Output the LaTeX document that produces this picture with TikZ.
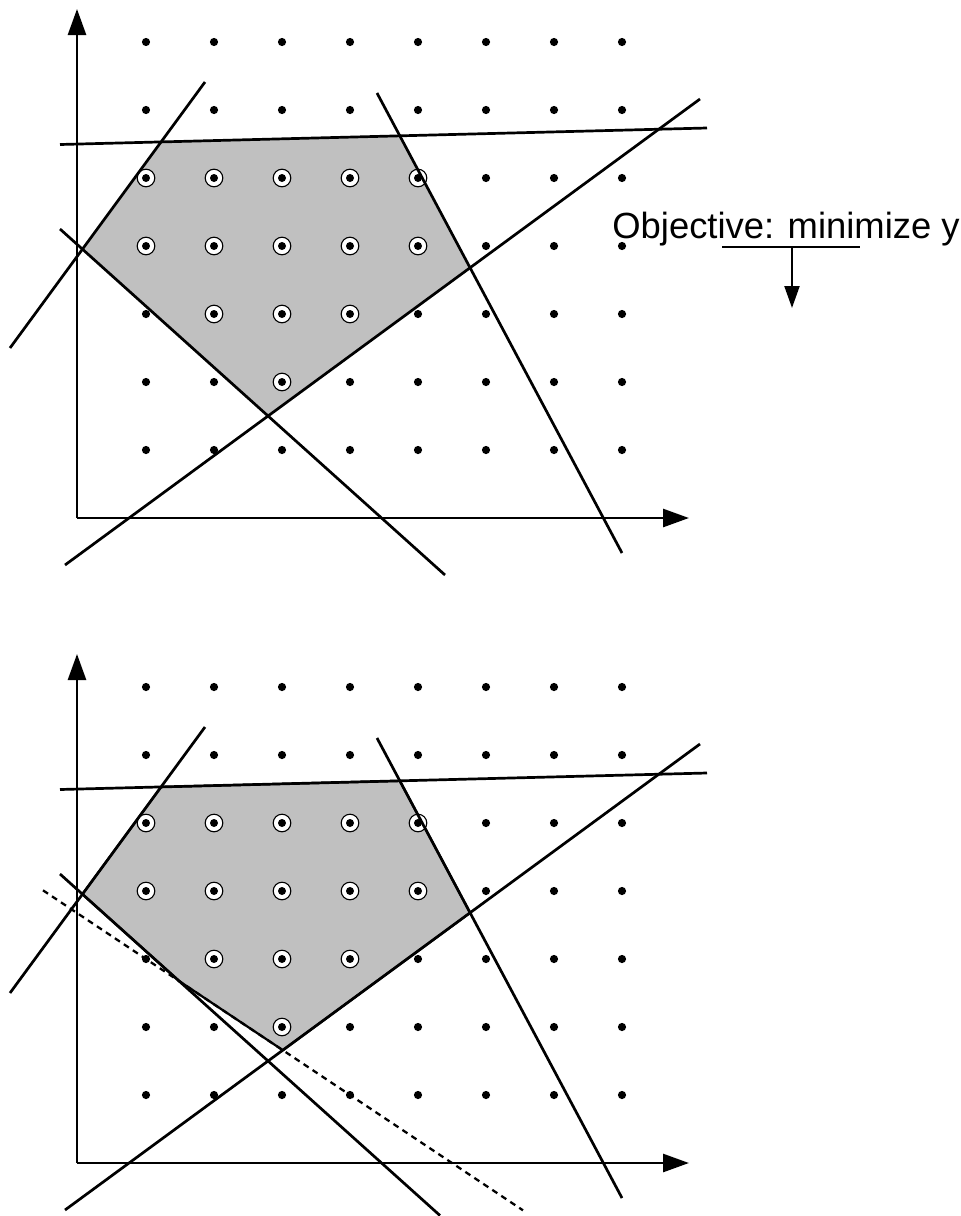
\documentclass[tikz,border=0pt]{standalone}
\usepackage{fontspec}
\setmainfont{Liberation Sans}
\usetikzlibrary{arrows.meta}
\definecolor{polygray}{RGB}{192,192,192}
\tikzset{
  ln/.style={line width=1.35pt},
  axis/.style={line width=1.35pt,-{Triangle[length=13pt,width=9pt]}},
  dot/.style={circle,fill=black,inner sep=0pt,minimum size=4.1pt},
  cdot/.style={circle,draw=black,fill=white,line width=0.55pt,inner sep=0pt,minimum size=8.8pt,
    path picture={\fill[black] (path picture bounding box.center) circle (2pt);}},
  cutln/.style={line width=1.15pt,dash pattern=on 3pt off 2.4pt},
}
\newcommand{\latticepts}[1]{%
  \foreach \x [count=\i] in {146,214,282,350,418,486,554,622}{
    \foreach \y [count=\j] in {42,110,178,246,314,382,450}{
      \pgfmathtruncatemacro{\inside}{
        (\j==3 && \i<=5) || (\j==4 && \i<=5) || (\j==5 && \i>=2 && \i<=4) || (\j==6 && \i==3)}
      \ifnum\inside=1
        \node[cdot] (#1-\i-\j) at (\x,\y) {};
      \else
        \node[dot] (#1-\i-\j) at (\x,\y) {};
      \fi
    }
  }%
}
\begin{document}
\begin{tikzpicture}[x=0.5pt,y=-0.5pt]
\useasboundingbox (0,0) rectangle (961,1216);
% ---------------- top diagram ----------------
\begin{scope}
  \coordinate (tO) at (77,518);
  \coordinate (tYt) at (77,9);
  \coordinate (tXt) at (689,518);
  \coordinate (t1a) at (60,144.5); \coordinate (t1b) at (707,128);
  \coordinate (t2a) at (10,348);   \coordinate (t2b) at (205,82);
  \coordinate (t3a) at (60,229);   \coordinate (t3b) at (445,575);
  \coordinate (t4a) at (65,565);   \coordinate (t4b) at (700,99);
  \coordinate (t5a) at (377,93);   \coordinate (t5b) at (622,553);
  \fill[polygray] (intersection of t1a--t1b and t2a--t2b)
    -- (intersection of t1a--t1b and t5a--t5b)
    -- (intersection of t4a--t4b and t5a--t5b)
    -- (intersection of t3a--t3b and t4a--t4b)
    -- (intersection of t2a--t2b and t3a--t3b) -- cycle;
  \latticepts{t}
  \draw[ln] (t1a) -- (t1b);
  \draw[ln] (t2a) -- (t2b);
  \draw[ln] (t3a) -- (t3b);
  \draw[ln] (t4a) -- (t4b);
  \draw[ln] (t5a) -- (t5b);
  \draw[axis] (tO) -- (tYt);
  \draw[axis] (tO) -- (tXt);
  % objective
  \node[anchor=base west,inner sep=0pt,font=\fontsize{18.2}{21}\selectfont] (obj) at (612,238) {Objective: minimize y};
  \coordinate (oL) at (722,247); \coordinate (oR) at (860,247);
  \coordinate (oM) at (792,247); \coordinate (oT) at (792,308);
  \draw[line width=1.1pt] (oL) -- (oR);
  \draw[line width=1.1pt,-{Triangle[length=11pt,width=7.5pt]}] (oM) -- (oT);
\end{scope}
% ---------------- bottom diagram ----------------
\begin{scope}[shift={(0,645)}]
  \coordinate (bO) at (77,518);
  \coordinate (bYt) at (77,9);
  \coordinate (bXt) at (689,518);
  \coordinate (b1a) at (60,144.5); \coordinate (b1b) at (707,128);
  \coordinate (b2a) at (10,348);   \coordinate (b2b) at (205,82);
  \coordinate (b3a) at (60,229);   \coordinate (b3b) at (440,570.5);
  \coordinate (b4a) at (65,565);   \coordinate (b4b) at (700,99);
  \coordinate (b5a) at (377,93);   \coordinate (b5b) at (622,553);
  \coordinate (bda) at (43,245.3); \coordinate (bdb) at (523,565.3);
  \filldraw[fill=polygray,draw=black,line width=1.1pt,line join=round]
       (intersection of b1a--b1b and b2a--b2b)
    -- (intersection of b1a--b1b and b5a--b5b)
    -- (intersection of b4a--b4b and b5a--b5b)
    -- (intersection of b4a--b4b and bda--bdb)
    -- (intersection of bda--bdb and b3a--b3b)
    -- (intersection of b2a--b2b and b3a--b3b) -- cycle;
  \latticepts{b}
  \draw[cutln] (bda) -- (bdb);
  \draw[ln] (b1a) -- (b1b);
  \draw[ln] (b2a) -- (b2b);
  \draw[ln] (b3a) -- (b3b);
  \draw[ln] (b4a) -- (b4b);
  \draw[ln] (b5a) -- (b5b);
  \draw[axis] (bO) -- (bYt);
  \draw[axis] (bO) -- (bXt);
\end{scope}
\end{tikzpicture}
\end{document}
